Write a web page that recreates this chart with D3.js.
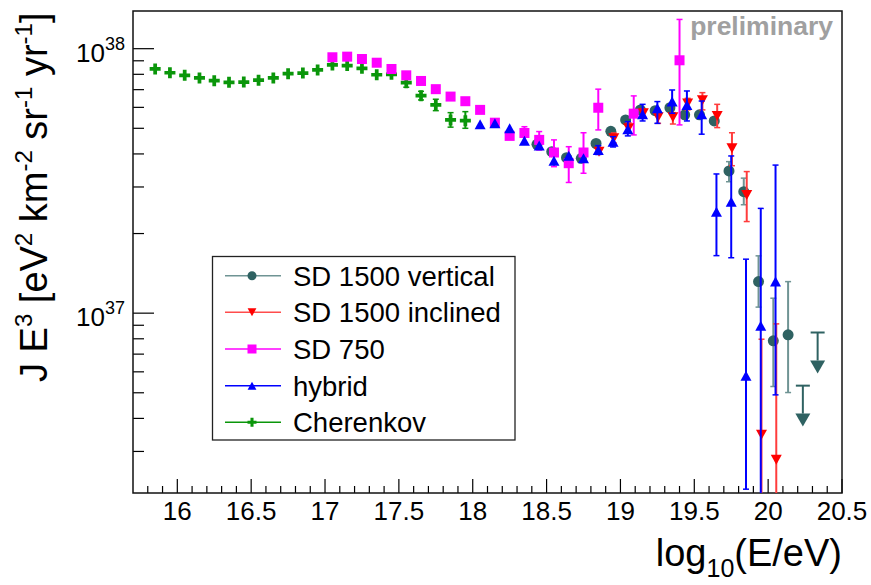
<!DOCTYPE html>
<html><head><meta charset="utf-8">
<script src="https://cdn.jsdelivr.net/npm/d3@7"></script>
<style>body{margin:0;background:#fff}svg{display:block}text{font-family:"Liberation Sans",Arial,sans-serif}</style>
</head><body><svg id="c" width="871" height="585"></svg>
<script>
// ---- data (J E^3 in eV^2 km^-2 sr^-1 yr^-1) ----
const cherE = [15.85,15.95,16.05,16.15,16.25,16.35,16.45,16.55,16.65,16.75,16.85,16.95,17.05,17.15,17.25,17.35,17.45,17.55,17.65,17.75,17.85,17.95];
const cherJ = [8.38e37,8.11e37,7.93e37,7.75e37,7.57e37,7.46e37,7.48e37,7.60e37,7.75e37,8.04e37,8.09e37,8.31e37,8.68e37,8.63e37,8.43e37,7.97e37,8.00e37,7.44e37,6.64e37,6.13e37,5.38e37,5.34e37];
const cherHi = [null,null,null,null,null,null,null,null,null,null,null,null,null,null,null,null,null,7.73e37,6.9e37,6.44e37,5.73e37,5.78e37];
const cherLo = [null,null,null,null,null,null,null,null,null,null,null,null,null,null,null,null,null,7.15e37,6.4e37,5.83e37,5.05e37,5.00e37];

const sd750E = [17.05,17.15,17.25,17.35,17.45,17.55,17.65,17.75,17.85,17.95,18.05,18.15,18.25,18.35,18.45,18.55,18.65,18.75,18.85,19.09,19.4];
const sd750J = [9.28e37,9.33e37,9.14e37,8.85e37,8.38e37,7.93e37,7.55e37,7.03e37,6.59e37,6.33e37,5.87e37,5.25e37,4.68e37,4.80e37,4.52e37,4.05e37,3.69e37,4.05e37,5.98e37,5.68e37,9.04e37];
const sd750Hi = [null,null,null,null,null,null,null,null,null,null,null,null,4.80e37,5.07e37,4.86e37,4.52e37,4.26e37,4.81e37,7.03e37,6.63e37,1.29e38];
const sd750Lo = [null,null,null,null,null,null,null,null,null,null,null,null,4.57e37,4.63e37,4.14e37,3.58e37,3.12e37,3.38e37,4.93e37,4.72e37,5.15e37];

const hybE = [18.05,18.15,18.25,18.35,18.45,18.55,18.65,18.75,18.85,18.95,19.05,19.15,19.25,19.35,19.45,19.55,19.65,19.75,19.85,19.95,20.05];
const hybJ = [5.18e37,5.22e37,5.00e37,4.49e37,4.30e37,3.77e37,3.94e37,3.85e37,4.14e37,4.45e37,4.96e37,5.65e37,5.95e37,6.31e37,6.13e37,5.65e37,2.42e37,2.64e37,5.80e36,8.96e36,1.316e37];
const hybHi = [null,null,null,null,null,null,null,null,4.30e37,4.65e37,5.30e37,6.16e37,6.31e37,6.98e37,6.92e37,6.34e37,3.36e37,3.93e37,1.60e37,2.49e37,3.63e37];
const hybLo = [null,null,null,null,null,null,null,null,3.98e37,4.25e37,4.68e37,5.33e37,5.22e37,5.70e37,5.33e37,4.75e37,1.65e37,1.62e37,2.16e36,1.0e36,4.91e36];

const sdIncE = [18.855,18.955,19.055,19.155,19.255,19.355,19.455,19.555,19.655,19.755,19.855,19.955,20.055];
const sdIncJ = [4.08e37,4.59e37,5.00e37,5.70e37,5.51e37,5.51e37,6.20e37,6.38e37,5.57e37,4.20e37,2.80e37,3.47e36,2.79e36];
const sdIncHi = [null,4.80e37,5.25e37,5.90e37,5.70e37,5.73e37,6.49e37,6.82e37,6.16e37,4.81e37,3.43e37,7.97e36,9.11e36];
const sdIncLo = [null,4.40e37,4.80e37,5.50e37,5.22e37,5.19e37,5.87e37,5.87e37,5.03e37,3.61e37,2.22e37,1.0e36,1.0e36];

const sdVertE = [18.435,18.535,18.635,18.735,18.835,18.935,19.035,19.135,19.235,19.335,19.435,19.535,19.635,19.735,19.835,19.935,20.035,20.135];
const sdVertJ = [4.35e37,4.08e37,3.87e37,3.85e37,4.38e37,4.87e37,5.38e37,5.87e37,5.83e37,5.98e37,5.62e37,5.62e37,5.33e37,3.45e37,2.88e37,1.316e37,7.86e36,8.28e36];
const sdVertHi = [null,null,null,null,null,null,null,null,null,null,null,null,null,3.74e37,3.24e37,1.647e37,1.139e37,1.316e37];
const sdVertLo = [null,null,null,null,null,null,null,null,null,null,null,null,null,3.14e37,2.57e37,1.054e37,5.28e36,5.01e36];
const sdVertLimE = [20.235,20.335];
const sdVertLimJ = [5.32e36,8.45e36];

const legendLabels = ["SD 1500 vertical","SD 1500 inclined","SD 750","hybrid","Cherenkov"];
const xTicks = [16,16.5,17,17.5,18,18.5,19,19.5,20,20.5];
const yTickExp = [37,38];

// ---- setup ----
const svg = d3.select("#c");
const L=133,R=842,T=11,B=493;
const x = d3.scaleLinear().domain([15.7,20.5]).range([L,R]);
const y = d3.scaleLog().domain([Math.pow(10,36.32),Math.pow(10,38.1425)]).range([B,T]);

svg.append("defs").append("clipPath").attr("id","clip")
  .append("rect").attr("x",L).attr("y",T).attr("width",R-L).attr("height",B-T);

const TEAL="#2f6262", TEALERR="#6f9494";
const series = [
  {E:cherE,J:cherJ,hi:cherHi,lo:cherLo,m:"cross",c:"#0a960a",ec:"#0a960a"},
  {E:sdVertE,J:sdVertJ,hi:sdVertHi,lo:sdVertLo,m:"circle",c:TEAL,ec:TEALERR},
  {E:sd750E,J:sd750J,hi:sd750Hi,lo:sd750Lo,m:"square",c:"#ff00ff",ec:"#ff00ff"},
  {E:sdIncE,J:sdIncJ,hi:sdIncHi,lo:sdIncLo,m:"down",c:"#ff0000",ec:"#ff3c3c"},
  {E:hybE,J:hybJ,hi:hybHi,lo:hybLo,m:"up",c:"#0000ff",ec:"#0000ff"}
];

function drawMarker(g,type,cx,cy,s,color){
  if(type==="circle"){g.append("circle").attr("cx",cx).attr("cy",cy).attr("r",s/2).attr("fill",color);}
  else if(type==="square"){g.append("rect").attr("x",cx-s/2).attr("y",cy-s/2).attr("width",s).attr("height",s).attr("fill",color);}
  else if(type==="up"){const w=s*1.1,h=s;g.append("path").attr("d",`M${cx},${cy-h/2}L${cx+w/2},${cy+h/2}L${cx-w/2},${cy+h/2}Z`).attr("fill",color);}
  else if(type==="down"){const w=s*1.1,h=s;g.append("path").attr("d",`M${cx-w/2},${cy-h/2}L${cx+w/2},${cy-h/2}L${cx},${cy+h/2}Z`).attr("fill",color);}
  else if(type==="cross"){const a=s/2,t=s*0.17;
    g.append("path").attr("d",`M${cx-t},${cy-a}H${cx+t}V${cy-t}H${cx+a}V${cy+t}H${cx+t}V${cy+a}H${cx-t}V${cy+t}H${cx-a}V${cy-t}H${cx-t}Z`).attr("fill",color);}
}

// ---- axes ----
const ax = svg.append("g");
const xMinor = d3.range(158,206).map(v=>v/10).filter(v=>v>=15.7&&v<=20.5);
xMinor.forEach(v=>{
  const major = Math.abs(v*2-Math.round(v*2))<1e-6;
  ax.append("line").attr("x1",x(v)).attr("x2",x(v)).attr("y1",B).attr("y2",B-(major?14:7)).attr("stroke","#000").attr("stroke-width",1.2);
});
xTicks.forEach(v=>{
  ax.append("text").attr("x",x(v)).attr("y",520).attr("text-anchor","middle").attr("font-size",26).text(String(v));
});
const yMinor=[];
for(let e=36;e<=38;e++){for(let k=1;k<=9;k++){const v=k*Math.pow(10,e);const lv=Math.log10(v);if(lv>=36.32&&lv<=38.1425)yMinor.push({v,major:k===1});}}
yMinor.forEach(t=>{
  ax.append("line").attr("x1",L).attr("x2",L+(t.major?21:11)).attr("y1",y(t.v)).attr("y2",y(t.v)).attr("stroke","#000").attr("stroke-width",1.2);
});
yTickExp.forEach(e=>{
  const t=ax.append("text").attr("x",125).attr("y",y(Math.pow(10,e))+13).attr("text-anchor","end").attr("font-size",26);
  t.append("tspan").text("10");
  t.append("tspan").attr("font-size",18).attr("dy",-12).text(String(e));
});
svg.append("rect").attr("x",L).attr("y",T).attr("width",R-L).attr("height",B-T).attr("fill","none").attr("stroke","#111").attr("stroke-width",1.5);

// x title
const xt = svg.append("text").attr("x",R).attr("y",566).attr("text-anchor","end").attr("font-size",38);
xt.append("tspan").text("log");
xt.append("tspan").attr("font-size",25).attr("dy",11).text("10");
xt.append("tspan").attr("dy",-11).text("(E/eV)");
// y title
const yt = svg.append("text").attr("transform","translate(47,382) rotate(-90)").attr("text-anchor","start").attr("font-size",38);
const sup=(txt)=>{yt.append("tspan").attr("font-size",24).attr("dy",-15).text(txt);};
const base=(txt)=>{yt.append("tspan").attr("dy",15).text(txt);};
yt.append("tspan").text("J E");
sup("3"); base(" [eV"); sup("2"); base(" km"); sup("-2"); base(" sr"); sup("-1"); base(" yr"); sup("-1"); base("]");

svg.append("text").attr("x",833).attr("y",35).attr("text-anchor","end").attr("font-size",26.5).attr("font-weight","bold").attr("fill","#a0a0a0").text("preliminary");

// ---- data ----
const plot = svg.append("g").attr("clip-path","url(#clip)");
const sizes={circle:11,square:10,up:10,down:10,cross:11};
series.forEach(s=>{
  const g=plot.append("g");
  s.E.forEach((e,i)=>{
    if(s.hi[i]!=null){
      const cx=x(e),y1=y(s.hi[i]),y2=y(s.lo[i]);
      g.append("line").attr("x1",cx).attr("x2",cx).attr("y1",y1).attr("y2",y2).attr("stroke",s.ec).attr("stroke-width",2);
      [y1,y2].forEach(yy=>g.append("line").attr("x1",cx-3).attr("x2",cx+3).attr("y1",yy).attr("y2",yy).attr("stroke",s.ec).attr("stroke-width",1.5));
    }
  });
  s.E.forEach((e,i)=>drawMarker(g,s.m,x(e),y(s.J[i]),sizes[s.m],s.c));
  if(s.m==="circle"){
    sdVertLimE.forEach((e,i)=>{
      const cx=x(e),yv=y(sdVertLimJ[i]),ytip=y(sdVertLimJ[i]*0.70);
      g.append("line").attr("x1",cx-7).attr("x2",cx+7).attr("y1",yv).attr("y2",yv).attr("stroke",TEAL).attr("stroke-width",2);
      g.append("line").attr("x1",cx).attr("x2",cx).attr("y1",yv).attr("y2",ytip-13).attr("stroke",TEAL).attr("stroke-width",2);
      g.append("path").attr("d",`M${cx-7.5},${ytip-13}L${cx+7.5},${ytip-13}L${cx},${ytip}Z`).attr("fill",TEAL);
    });
  }
});

// ---- legend ----
const lg = svg.append("g");
lg.append("rect").attr("x",212.5).attr("y",256.5).attr("width",302.5).attr("height",183.5).attr("fill","#fff").attr("stroke","#222").attr("stroke-width",1.3);
const legSeries=[series[1],series[3],series[2],series[4],series[0]];
const legCols=[TEALERR,"#ff4c4c","#ff00ff","#0000ff","#0a960a"];
const legSizes={circle:9,square:9,up:8,down:8,cross:9};
legendLabels.forEach((lab,i)=>{
  const cy=275.7+i*36.65;
  lg.append("line").attr("x1",225).attr("x2",281).attr("y1",cy).attr("y2",cy).attr("stroke",legCols[i]).attr("stroke-width",1.5);
  drawMarker(lg,legSeries[i].m,252,cy,legSizes[legSeries[i].m],legSeries[i].c);
  lg.append("text").attr("x",293).attr("y",cy+10).attr("font-size",27.5).text(lab);
});
</script></body></html>
